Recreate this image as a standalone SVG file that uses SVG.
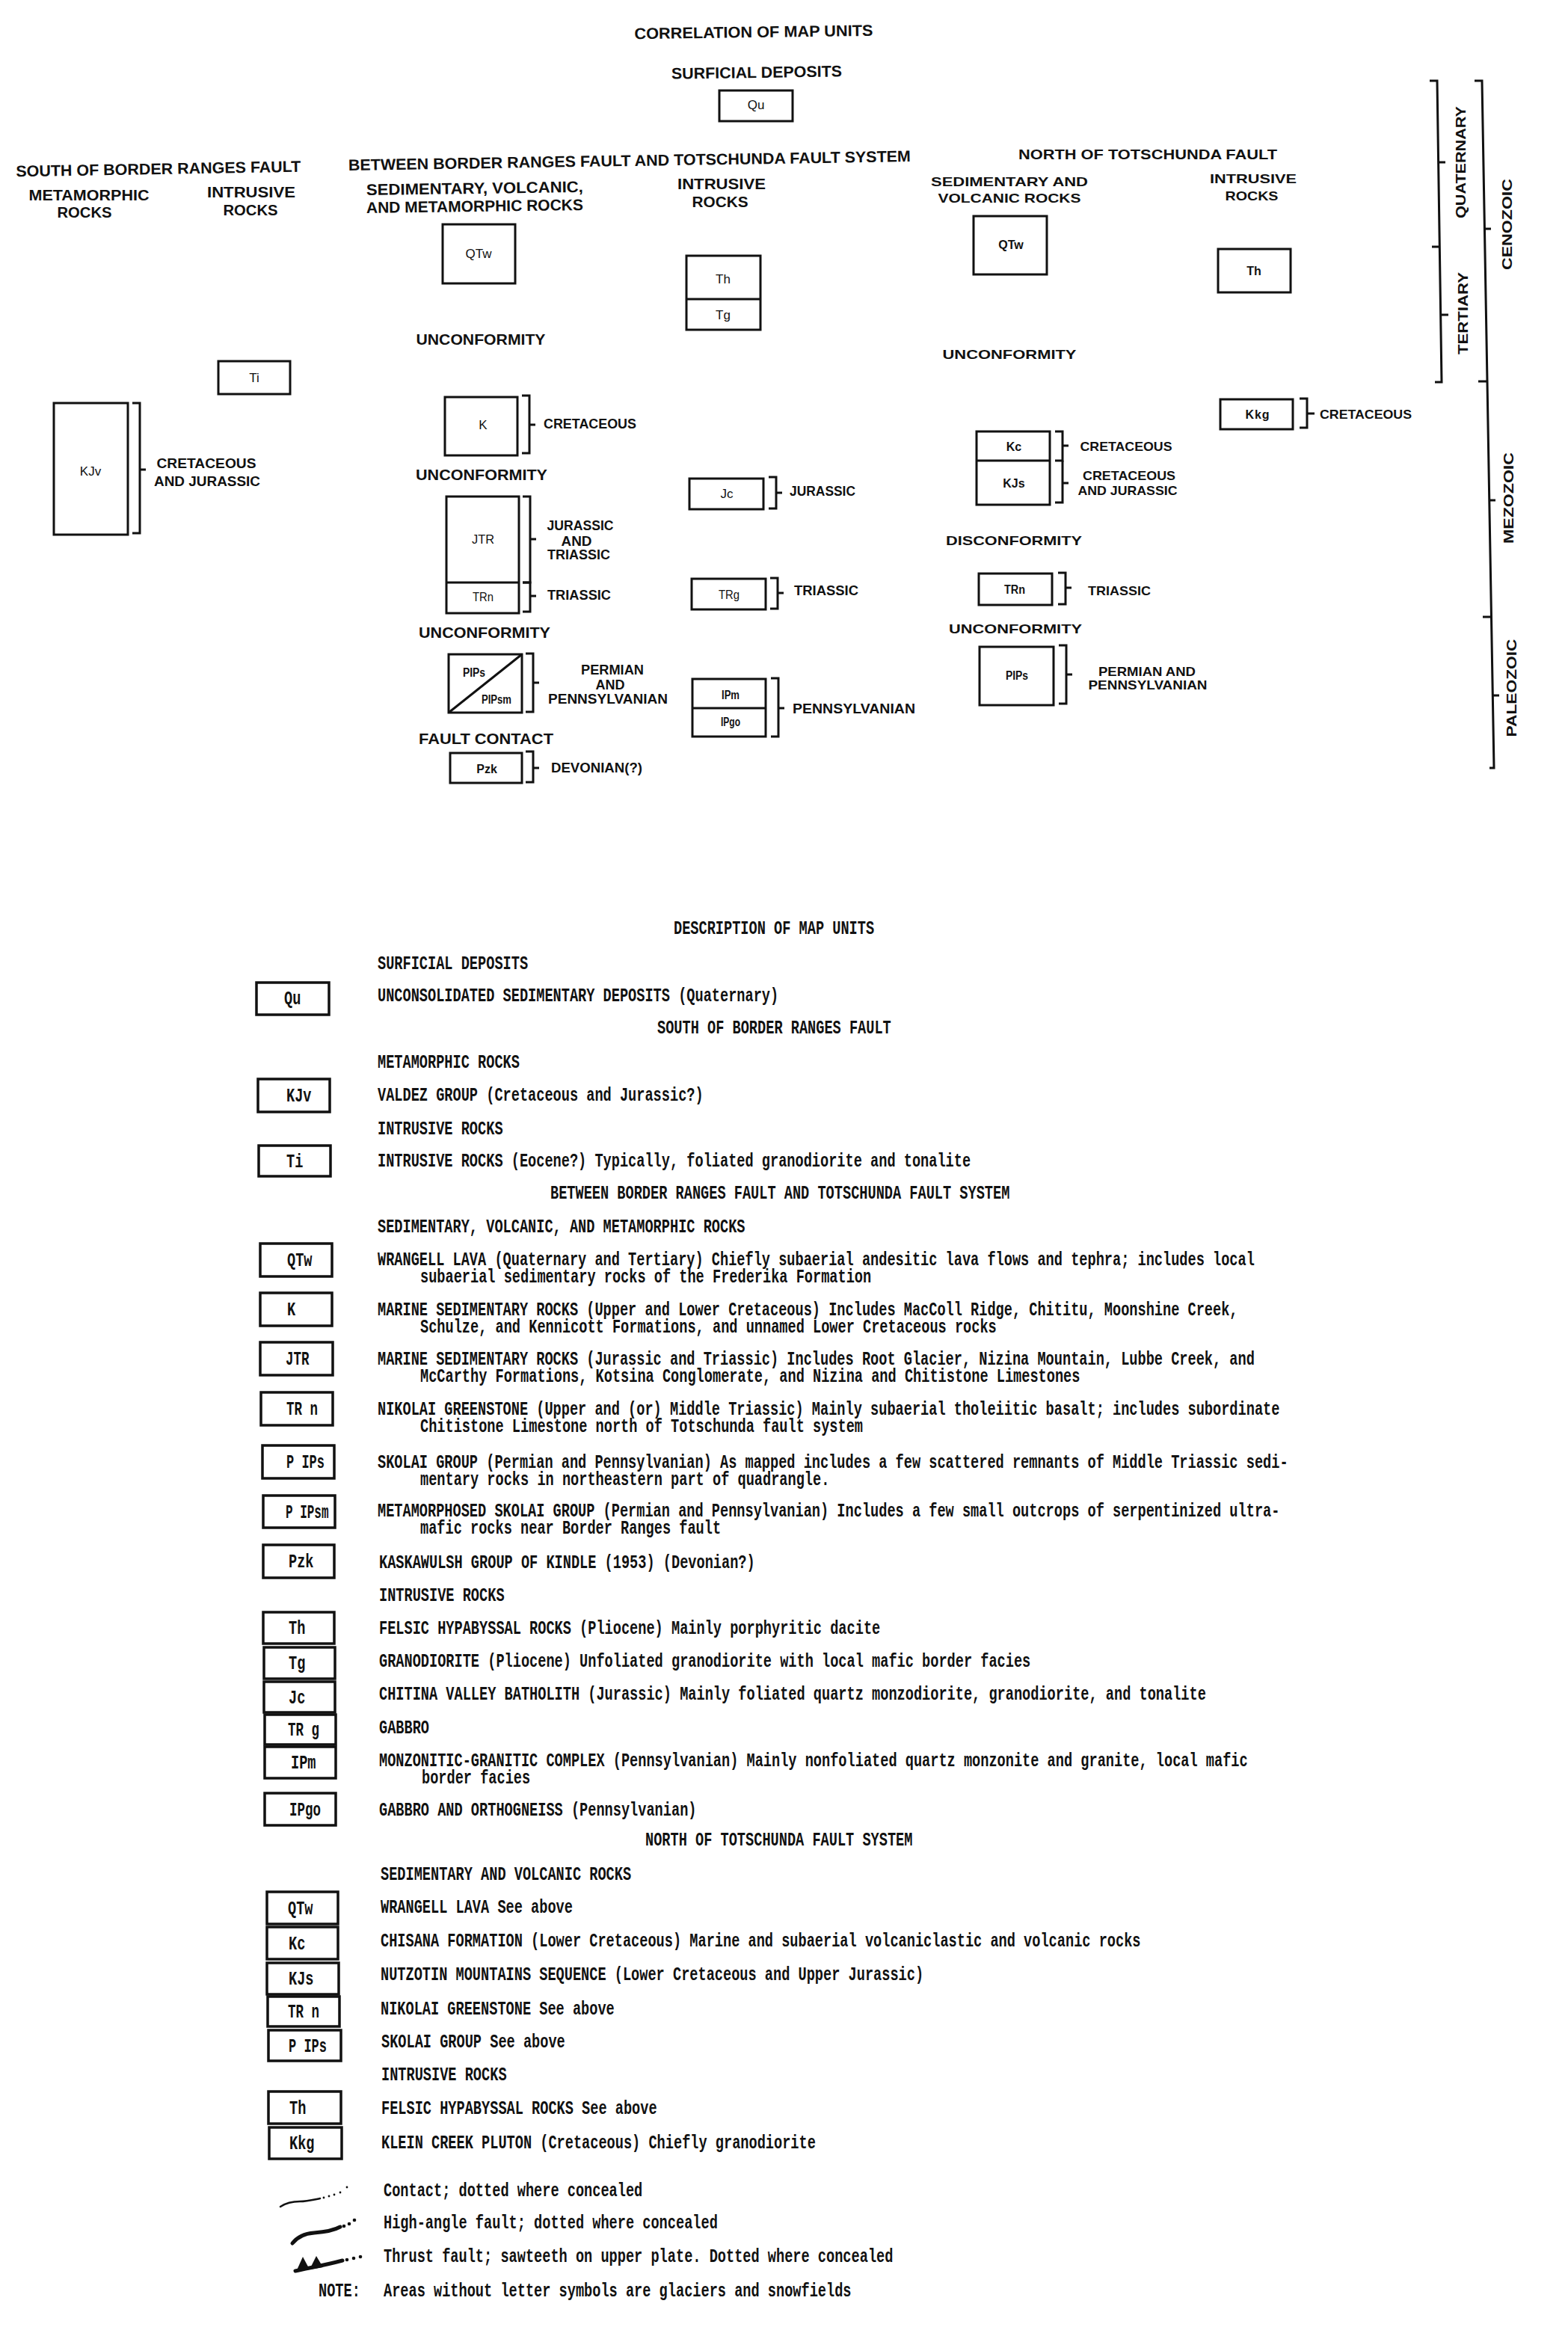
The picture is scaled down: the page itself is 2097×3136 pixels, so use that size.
<svg xmlns="http://www.w3.org/2000/svg" width="2097" height="3136" viewBox="0 0 2097 3136">
<style>
.h{font-family:"Liberation Sans",Arial,sans-serif;font-weight:bold;font-size:21px;fill:#111}
.l{font-family:"Liberation Sans",Arial,sans-serif;font-weight:bold;font-size:18px;fill:#111}
.nl{font-family:"Liberation Sans",Arial,sans-serif;font-weight:bold;font-size:17px;fill:#111}
.u{font-family:"Liberation Sans",Arial,sans-serif;font-size:17px;fill:#111;text-anchor:middle}
.un{font-family:"Liberation Sans",Arial,sans-serif;font-weight:bold;font-size:16px;fill:#111;text-anchor:middle}
.c{text-anchor:middle}
.bx{fill:none;stroke:#111;stroke-width:3}
.db{fill:none;stroke:#111;stroke-width:3.5}
.br{fill:none;stroke:#111;stroke-width:3}
.d{font-family:"Liberation Mono","DejaVu Sans Mono",monospace;font-weight:bold;font-size:25px;fill:#111}
.sym{fill:none;stroke:#111;stroke-linecap:round}
</style>
<rect width="2097" height="3136" fill="#fff"/>

<!-- ===== CORRELATION HEADERS ===== -->
<g id="headers">
<text class="h c" x="1008" y="50" textLength="319" lengthAdjust="spacingAndGlyphs" transform="rotate(-0.8 1008 50)">CORRELATION OF MAP UNITS</text>
<text class="h c" x="1012" y="104" textLength="228" lengthAdjust="spacingAndGlyphs" transform="rotate(-0.8 1012 104)">SURFICIAL DEPOSITS</text>
<text class="h c" x="212" y="233" textLength="381" lengthAdjust="spacingAndGlyphs" transform="rotate(-1 212 233)">SOUTH OF BORDER RANGES FAULT</text>
<text class="h c" x="119" y="268" textLength="161" lengthAdjust="spacingAndGlyphs">METAMORPHIC</text>
<text class="h c" x="113" y="291" textLength="73" lengthAdjust="spacingAndGlyphs">ROCKS</text>
<text class="h c" x="336" y="264" textLength="118" lengthAdjust="spacingAndGlyphs">INTRUSIVE</text>
<text class="h c" x="335" y="288" textLength="73" lengthAdjust="spacingAndGlyphs">ROCKS</text>
<text class="h c" x="842" y="222" textLength="752" lengthAdjust="spacingAndGlyphs" transform="rotate(-0.9 842 222)">BETWEEN BORDER RANGES FAULT AND TOTSCHUNDA FAULT SYSTEM</text>
<text class="h c" x="635" y="259" textLength="290" lengthAdjust="spacingAndGlyphs" transform="rotate(-0.8 635 259)">SEDIMENTARY, VOLCANIC,</text>
<text class="h c" x="635" y="283" textLength="290" lengthAdjust="spacingAndGlyphs" transform="rotate(-0.8 635 283)">AND METAMORPHIC ROCKS</text>
<text class="h c" x="965" y="253" textLength="118" lengthAdjust="spacingAndGlyphs">INTRUSIVE</text>
<text class="h c" x="963" y="277" textLength="75" lengthAdjust="spacingAndGlyphs">ROCKS</text>
<text class="h c" x="643" y="461" textLength="173" lengthAdjust="spacingAndGlyphs">UNCONFORMITY</text>
<text class="h c" x="644" y="642" textLength="176" lengthAdjust="spacingAndGlyphs">UNCONFORMITY</text>
<text class="h c" x="648" y="853" textLength="176" lengthAdjust="spacingAndGlyphs">UNCONFORMITY</text>
<text class="h c" x="650" y="995" textLength="180" lengthAdjust="spacingAndGlyphs">FAULT CONTACT</text>
<text class="h c" x="1535" y="213" textLength="346" lengthAdjust="spacingAndGlyphs" style="font-size:19px">NORTH OF TOTSCHUNDA FAULT</text>
<text class="nl c" x="1350" y="249" textLength="210" lengthAdjust="spacingAndGlyphs">SEDIMENTARY AND</text>
<text class="nl c" x="1350" y="271" textLength="191" lengthAdjust="spacingAndGlyphs">VOLCANIC ROCKS</text>
<text class="nl c" x="1676" y="245" textLength="116" lengthAdjust="spacingAndGlyphs">INTRUSIVE</text>
<text class="nl c" x="1674" y="268" textLength="71" lengthAdjust="spacingAndGlyphs">ROCKS</text>
<text class="nl c" x="1350" y="480" textLength="179" lengthAdjust="spacingAndGlyphs">UNCONFORMITY</text>
<text class="nl c" x="1356" y="729" textLength="182" lengthAdjust="spacingAndGlyphs">DISCONFORMITY</text>
<text class="nl c" x="1358" y="847" textLength="178" lengthAdjust="spacingAndGlyphs">UNCONFORMITY</text>
</g>

<!-- ===== UNIT BOXES (correlation) ===== -->
<g id="unit-Qu"><rect class="bx" x="962" y="121" width="98" height="41"/><text class="u" x="1011" y="146">Qu</text></g>
<g id="unit-QTw-between"><rect class="bx" x="592" y="300" width="97" height="79"/><text class="u" x="640" y="345">QTw</text></g>
<g id="unit-Th-Tg"><rect class="bx" x="918" y="342" width="99" height="99"/><line class="bx" x1="918" y1="400" x2="1017" y2="400"/><text class="u" x="967" y="379">Th</text><text class="u" x="967" y="427">Tg</text></g>
<g id="unit-Ti"><rect class="bx" x="292" y="483" width="96" height="44"/><text class="u" x="340" y="511">Ti</text></g>
<g id="unit-KJv"><rect class="bx" x="72" y="539" width="99" height="176"/><text class="u" x="121" y="636">KJv</text></g>
<g id="unit-K"><rect class="bx" x="595" y="531" width="97" height="78"/><text class="u" x="646" y="574">K</text></g>
<g id="unit-JTR-TRn"><rect class="bx" x="597" y="664" width="97" height="156"/><line class="bx" x1="597" y1="779" x2="694" y2="779"/><text class="u" x="646" y="727" textLength="30" lengthAdjust="spacingAndGlyphs">JTR</text><text class="u" x="646" y="804" textLength="28" lengthAdjust="spacingAndGlyphs">TRn</text></g>
<g id="unit-Jc"><rect class="bx" x="922" y="640" width="99" height="41"/><text class="u" x="972" y="666">Jc</text></g>
<g id="unit-TRg"><rect class="bx" x="925" y="774" width="99" height="41"/><text class="u" x="975" y="801" textLength="28" lengthAdjust="spacingAndGlyphs">TRg</text></g>
<g id="unit-PPs-PPsm"><rect class="bx" x="600" y="875" width="98" height="78"/><line class="bx" x1="600" y1="953" x2="698" y2="875"/><text class="un" x="634" y="905" textLength="30" lengthAdjust="spacingAndGlyphs">PIPs</text><text class="un" x="664" y="941" textLength="40" lengthAdjust="spacingAndGlyphs">PIPsm</text></g>
<g id="unit-IPm-IPgo"><rect class="bx" x="926" y="908" width="98" height="77"/><line class="bx" x1="926" y1="947" x2="1024" y2="947"/><text class="un" x="977" y="935" textLength="24" lengthAdjust="spacingAndGlyphs">IPm</text><text class="un" x="977" y="971" textLength="26" lengthAdjust="spacingAndGlyphs">IPgo</text></g>
<g id="unit-Pzk"><rect class="bx" x="602" y="1007" width="96" height="40"/><text class="un" x="651" y="1034">Pzk</text></g>
<g id="unit-QTw-north"><rect class="bx" x="1302" y="289" width="98" height="78"/><text class="un" x="1352" y="333">QTw</text></g>
<g id="unit-Th-north"><rect class="bx" x="1629" y="333" width="97" height="58"/><text class="un" x="1677" y="368">Th</text></g>
<g id="unit-Kkg"><rect class="bx" x="1632" y="534" width="97" height="40"/><text class="un" x="1682" y="560" letter-spacing="1">Kkg</text></g>
<g id="unit-Kc-KJs"><rect class="bx" x="1306" y="577" width="98" height="98"/><line class="bx" x1="1306" y1="616" x2="1404" y2="616"/><text class="un" x="1356" y="603">Kc</text><text class="un" x="1356" y="652">KJs</text></g>
<g id="unit-TRn-north"><rect class="bx" x="1309" y="767" width="98" height="42"/><text class="un" x="1357" y="794" textLength="28" lengthAdjust="spacingAndGlyphs">TRn</text></g>
<g id="unit-PPs-north"><rect class="bx" x="1310" y="865" width="99" height="78"/><text class="un" x="1360" y="909" textLength="30" lengthAdjust="spacingAndGlyphs">PIPs</text></g>

<!-- ===== AGE BRACKETS & TIME SCALE ===== -->
<g id="connectors">
<path class="br" d="M177 539H187V713H177M187 628H195"/>
<path class="br" d="M698 529H708V606H698M708 568H716"/>
<path class="br" d="M699 664H709V779H699M709 721H717"/>
<path class="br" d="M699 779H709V818H699M709 797H717"/>
<path class="br" d="M1028 638H1038V680H1028M1038 659H1046"/>
<path class="br" d="M1030 773H1040V814H1030M1040 793H1048"/>
<path class="br" d="M703 874H713V952H703M713 913H721"/>
<path class="br" d="M1031 907H1041V985H1031M1041 947H1049"/>
<path class="br" d="M703 1005H713V1046H703M713 1027H721"/>
<path class="br" d="M1738 533H1748V572H1738M1748 553H1758"/>
<path class="br" d="M1411 577H1421V616H1411M1421 596H1429"/>
<path class="br" d="M1421 616V672H1411M1421 646H1429"/>
<path class="br" d="M1415 766H1425V808H1415M1425 786H1433"/>
<path class="br" d="M1416 863H1426V941H1416M1426 902H1434"/>
<path class="br" d="M1912 108H1922L1928 511H1919"/>
<path class="br" d="M1923 217H1933M1915 330H1925M1927 421H1937"/>
<path class="br" d="M1972 108H1982L1998 1027H1992"/>
<path class="br" d="M1985 306H1994M1977 510H1989M1992 669H2000M1983 825H1995M1996 930H2005"/>
</g>

<g id="age-labels">
<text class="l c" x="276" y="626" textLength="133" lengthAdjust="spacingAndGlyphs">CRETACEOUS</text>
<text class="l c" x="277" y="650" textLength="142" lengthAdjust="spacingAndGlyphs">AND JURASSIC</text>
<text class="l" x="727" y="573" textLength="124" lengthAdjust="spacingAndGlyphs">CRETACEOUS</text>
<text class="l c" x="776" y="709" textLength="89" lengthAdjust="spacingAndGlyphs">JURASSIC</text>
<text class="l c" x="771" y="730" textLength="41" lengthAdjust="spacingAndGlyphs">AND</text>
<text class="l c" x="774" y="748" textLength="84" lengthAdjust="spacingAndGlyphs">TRIASSIC</text>
<text class="l" x="732" y="802" textLength="85" lengthAdjust="spacingAndGlyphs">TRIASSIC</text>
<text class="l" x="1056" y="663" textLength="88" lengthAdjust="spacingAndGlyphs">JURASSIC</text>
<text class="l" x="1062" y="796" textLength="86" lengthAdjust="spacingAndGlyphs">TRIASSIC</text>
<text class="l c" x="819" y="902" textLength="84" lengthAdjust="spacingAndGlyphs">PERMIAN</text>
<text class="l c" x="816" y="922" textLength="39" lengthAdjust="spacingAndGlyphs">AND</text>
<text class="l c" x="813" y="941" textLength="160" lengthAdjust="spacingAndGlyphs">PENNSYLVANIAN</text>
<text class="l" x="1060" y="954" textLength="164" lengthAdjust="spacingAndGlyphs">PENNSYLVANIAN</text>
<text class="l" x="737" y="1033" textLength="122" lengthAdjust="spacingAndGlyphs">DEVONIAN(?)</text>
<text class="nl" x="1765" y="560" textLength="123" lengthAdjust="spacingAndGlyphs">CRETACEOUS</text>
<text class="nl c" x="1506" y="603" textLength="123" lengthAdjust="spacingAndGlyphs">CRETACEOUS</text>
<text class="nl c" x="1510" y="642" textLength="124" lengthAdjust="spacingAndGlyphs">CRETACEOUS</text>
<text class="nl c" x="1508" y="662" textLength="133" lengthAdjust="spacingAndGlyphs">AND JURASSIC</text>
<text class="nl" x="1455" y="796" textLength="84" lengthAdjust="spacingAndGlyphs">TRIASSIC</text>
<text class="nl c" x="1534" y="904" textLength="130" lengthAdjust="spacingAndGlyphs">PERMIAN AND</text>
<text class="nl c" x="1535" y="922" textLength="159" lengthAdjust="spacingAndGlyphs">PENNSYLVANIAN</text>
<text class="l c" transform="translate(1960 217) rotate(-90)" x="0" y="0" textLength="150" lengthAdjust="spacingAndGlyphs">QUATERNARY</text>
<text class="l c" transform="translate(1963 419) rotate(-90)" x="0" y="0" textLength="110" lengthAdjust="spacingAndGlyphs">TERTIARY</text>
<text class="l c" transform="translate(2022 300) rotate(-90)" x="0" y="0" textLength="122" lengthAdjust="spacingAndGlyphs">CENOZOIC</text>
<text class="l c" transform="translate(2024 666) rotate(-90)" x="0" y="0" textLength="122" lengthAdjust="spacingAndGlyphs">MEZOZOIC</text>
<text class="l c" transform="translate(2028 920) rotate(-90)" x="0" y="0" textLength="131" lengthAdjust="spacingAndGlyphs">PALEOZOIC</text>
</g>

<!-- ===== DESCRIPTION OF MAP UNITS ===== -->
<g id="description">
<text class="d" transform="translate(901 1249) scale(.745 1)">DESCRIPTION OF MAP UNITS</text>
<text class="d" transform="translate(505 1296) scale(.745 1)">SURFICIAL DEPOSITS</text>
<text class="d" transform="translate(505 1339) scale(.745 1)">UNCONSOLIDATED SEDIMENTARY DEPOSITS (Quaternary)</text>
<text class="d" transform="translate(879 1382) scale(.745 1)">SOUTH OF BORDER RANGES FAULT</text>
<text class="d" transform="translate(505 1428) scale(.745 1)">METAMORPHIC ROCKS</text>
<text class="d" transform="translate(505 1472) scale(.745 1)">VALDEZ GROUP (Cretaceous and Jurassic?)</text>
<text class="d" transform="translate(505 1517) scale(.745 1)">INTRUSIVE ROCKS</text>
<text class="d" transform="translate(505 1560) scale(.745 1)">INTRUSIVE ROCKS (Eocene?) Typically, foliated granodiorite and tonalite</text>
<text class="d" transform="translate(736 1603) scale(.745 1)">BETWEEN BORDER RANGES FAULT AND TOTSCHUNDA FAULT SYSTEM</text>
<text class="d" transform="translate(505 1648) scale(.745 1)">SEDIMENTARY, VOLCANIC, AND METAMORPHIC ROCKS</text>
<text class="d" transform="translate(505 1692) scale(.745 1)">WRANGELL LAVA (Quaternary and Tertiary) Chiefly subaerial andesitic lava flows and tephra; includes local</text>
<text class="d" transform="translate(562 1715) scale(.745 1)">subaerial sedimentary rocks of the Frederika Formation</text>
<text class="d" transform="translate(505 1759) scale(.745 1)">MARINE SEDIMENTARY ROCKS (Upper and Lower Cretaceous) Includes MacColl Ridge, Chititu, Moonshine Creek,</text>
<text class="d" transform="translate(562 1782) scale(.745 1)">Schulze, and Kennicott Formations, and unnamed Lower Cretaceous rocks</text>
<text class="d" transform="translate(505 1825) scale(.745 1)">MARINE SEDIMENTARY ROCKS (Jurassic and Triassic) Includes Root Glacier, Nizina Mountain, Lubbe Creek, and</text>
<text class="d" transform="translate(562 1848) scale(.745 1)">McCarthy Formations, Kotsina Conglomerate, and Nizina and Chitistone Limestones</text>
<text class="d" transform="translate(505 1892) scale(.745 1)">NIKOLAI GREENSTONE (Upper and (or) Middle Triassic) Mainly subaerial tholeiitic basalt; includes subordinate</text>
<text class="d" transform="translate(562 1915) scale(.745 1)">Chitistone Limestone north of Totschunda fault system</text>
<text class="d" transform="translate(505 1963) scale(.745 1)">SKOLAI GROUP (Permian and Pennsylvanian) As mapped includes a few scattered remnants of Middle Triassic sedi-</text>
<text class="d" transform="translate(562 1986) scale(.745 1)">mentary rocks in northeastern part of quadrangle.</text>
<text class="d" transform="translate(505 2028) scale(.745 1)">METAMORPHOSED SKOLAI GROUP (Permian and Pennsylvanian) Includes a few small outcrops of serpentinized ultra-</text>
<text class="d" transform="translate(562 2051) scale(.745 1)">mafic rocks near Border Ranges fault</text>
<text class="d" transform="translate(507 2097) scale(.745 1)">KASKAWULSH GROUP OF KINDLE (1953) (Devonian?)</text>
<text class="d" transform="translate(507 2141) scale(.745 1)">INTRUSIVE ROCKS</text>
<text class="d" transform="translate(507 2185) scale(.745 1)">FELSIC HYPABYSSAL ROCKS (Pliocene) Mainly porphyritic dacite</text>
<text class="d" transform="translate(507 2229) scale(.745 1)">GRANODIORITE (Pliocene) Unfoliated granodiorite with local mafic border facies</text>
<text class="d" transform="translate(507 2273) scale(.745 1)">CHITINA VALLEY BATHOLITH (Jurassic) Mainly foliated quartz monzodiorite, granodiorite, and tonalite</text>
<text class="d" transform="translate(507 2318) scale(.745 1)">GABBRO</text>
<text class="d" transform="translate(507 2362) scale(.745 1)">MONZONITIC-GRANITIC COMPLEX (Pennsylvanian) Mainly nonfoliated quartz monzonite and granite, local mafic</text>
<text class="d" transform="translate(564 2385) scale(.745 1)">border facies</text>
<text class="d" transform="translate(507 2428) scale(.745 1)">GABBRO AND ORTHOGNEISS (Pennsylvanian)</text>
<text class="d" transform="translate(863 2468) scale(.745 1)">NORTH OF TOTSCHUNDA FAULT SYSTEM</text>
<text class="d" transform="translate(509 2514) scale(.745 1)">SEDIMENTARY AND VOLCANIC ROCKS</text>
<text class="d" transform="translate(509 2558) scale(.745 1)">WRANGELL LAVA See above</text>
<text class="d" transform="translate(509 2603) scale(.745 1)">CHISANA FORMATION (Lower Cretaceous) Marine and subaerial volcaniclastic and volcanic rocks</text>
<text class="d" transform="translate(509 2648) scale(.745 1)">NUTZOTIN MOUNTAINS SEQUENCE (Lower Cretaceous and Upper Jurassic)</text>
<text class="d" transform="translate(509 2694) scale(.745 1)">NIKOLAI GREENSTONE See above</text>
<text class="d" transform="translate(510 2738) scale(.745 1)">SKOLAI GROUP See above</text>
<text class="d" transform="translate(510 2782) scale(.745 1)">INTRUSIVE ROCKS</text>
<text class="d" transform="translate(510 2827) scale(.745 1)">FELSIC HYPABYSSAL ROCKS See above</text>
<text class="d" transform="translate(510 2873) scale(.745 1)">KLEIN CREEK PLUTON (Cretaceous) Chiefly granodiorite</text>
</g>

<!-- description boxes -->
<g id="d-Qu"><rect class="db" x="343" y="1314" width="97" height="43"/><text class="d" transform="translate(380 1343) scale(.745 1)">Qu</text></g>
<g id="d-KJv"><rect class="db" x="345" y="1443" width="96" height="44"/><text class="d" transform="translate(383 1473) scale(.745 1)">KJv</text></g>
<g id="d-Ti"><rect class="db" x="346" y="1532" width="96" height="41"/><text class="d" transform="translate(383 1561) scale(.745 1)">Ti</text></g>
<g id="d-QTw"><rect class="db" x="348" y="1663" width="96" height="44"/><text class="d" transform="translate(384 1693) scale(.745 1)">QTw</text></g>
<g id="d-K"><rect class="db" x="348" y="1729" width="96" height="44"/><text class="d" transform="translate(384 1759) scale(.745 1)">K</text></g>
<g id="d-JTR"><rect class="db" x="348" y="1795" width="97" height="44"/><text class="d" transform="translate(382 1825) scale(.7 1)">JTR</text></g>
<g id="d-TRn"><rect class="db" x="349" y="1862" width="96" height="44"/><text class="d" transform="translate(383 1892) scale(.7 1)">TR n</text></g>
<g id="d-PPs"><rect class="db" x="351" y="1933" width="96" height="44"/><text class="d" transform="translate(383 1963) scale(.68 1)">P IPs</text></g>
<g id="d-PPsm"><rect class="db" x="352" y="2000" width="96" height="43"/><text class="d" transform="translate(382 2030) scale(.64 1)">P IPsm</text></g>
<g id="d-Pzk"><rect class="db" x="352" y="2066" width="95" height="44"/><text class="d" transform="translate(386 2096) scale(.745 1)">Pzk</text></g>
<g id="d-Th"><rect class="db" x="352" y="2156" width="95" height="42"/><text class="d" transform="translate(386 2185) scale(.745 1)">Th</text></g>
<g id="d-Tg"><rect class="db" x="353" y="2203" width="95" height="42"/><text class="d" transform="translate(386 2232) scale(.745 1)">Tg</text></g>
<g id="d-Jc"><rect class="db" x="353" y="2249" width="95" height="41"/><text class="d" transform="translate(386 2278) scale(.745 1)">Jc</text></g>
<g id="d-TRg"><rect class="db" x="354" y="2293" width="95" height="40"/><text class="d" transform="translate(385 2321) scale(.7 1)">TR g</text></g>
<g id="d-IPm"><rect class="db" x="354" y="2336" width="95" height="42"/><text class="d" transform="translate(389 2365) scale(.745 1)">IPm</text></g>
<g id="d-IPgo"><rect class="db" x="354" y="2398" width="95" height="43"/><text class="d" transform="translate(387 2428) scale(.7 1)">IPgo</text></g>
<g id="d-QTw-n"><rect class="db" x="357" y="2530" width="95" height="43"/><text class="d" transform="translate(385 2560) scale(.745 1)">QTw</text></g>
<g id="d-Kc"><rect class="db" x="357" y="2577" width="95" height="43"/><text class="d" transform="translate(386 2607) scale(.745 1)">Kc</text></g>
<g id="d-KJs"><rect class="db" x="357" y="2625" width="96" height="42"/><text class="d" transform="translate(386 2654) scale(.745 1)">KJs</text></g>
<g id="d-TRn-n"><rect class="db" x="358" y="2670" width="96" height="40"/><text class="d" transform="translate(385 2698) scale(.7 1)">TR n</text></g>
<g id="d-PIPs-n"><rect class="db" x="359" y="2715" width="97" height="41"/><text class="d" transform="translate(386 2744) scale(.68 1)">P IPs</text></g>
<g id="d-Th-n"><rect class="db" x="359" y="2797" width="97" height="43"/><text class="d" transform="translate(387 2827) scale(.745 1)">Th</text></g>
<g id="d-Kkg"><rect class="db" x="360" y="2845" width="97" height="42"/><text class="d" transform="translate(387 2874) scale(.745 1)">Kkg</text></g>

<!-- ===== LINE SYMBOL LEGEND ===== -->
<g id="legend-contact">
<path class="sym" stroke-width="2.5" d="M375 2951C384 2945 392 2944 401 2944S418 2942 428 2940"/>
<g fill="#111"><circle cx="433" cy="2939" r="1.4"/><circle cx="440" cy="2937" r="1.4"/><circle cx="447" cy="2935" r="1.4"/><circle cx="455" cy="2932" r="1.4"/><circle cx="464" cy="2925" r="1.4"/></g>
<text class="d" transform="translate(513 2937) scale(.745 1)">Contact; dotted where concealed</text>
</g>
<g id="legend-fault">
<path class="sym" stroke-width="5" d="M391 3000C398 2991 407 2987 420 2986S446 2983 455 2978"/>
<g fill="#111"><circle cx="460" cy="2977" r="2.3"/><circle cx="467" cy="2974" r="2.3"/><circle cx="474" cy="2969" r="2.3"/></g>
<text class="d" transform="translate(513 2980) scale(.745 1)">High-angle fault; dotted where concealed</text>
</g>
<g id="legend-thrust">
<path class="sym" stroke-width="5" d="M395 3037C412 3033 432 3030 458 3023"/>
<polygon fill="#111" points="396,3038 405,3018 414,3035"/>
<polygon fill="#111" points="414,3035 423,3017 432,3032"/>
<g fill="#111"><circle cx="464" cy="3022" r="2.3"/><circle cx="473" cy="3020" r="2.3"/><circle cx="482" cy="3018" r="2.3"/></g>
<text class="d" transform="translate(513 3025) scale(.745 1)">Thrust fault; sawteeth on upper plate.  Dotted where concealed</text>
</g>
<g id="legend-note">
<text class="d" transform="translate(426 3071) scale(.745 1)">NOTE:</text>
<text class="d" transform="translate(513 3071) scale(.745 1)">Areas without letter symbols are glaciers and snowfields</text>
</g>
</svg>
